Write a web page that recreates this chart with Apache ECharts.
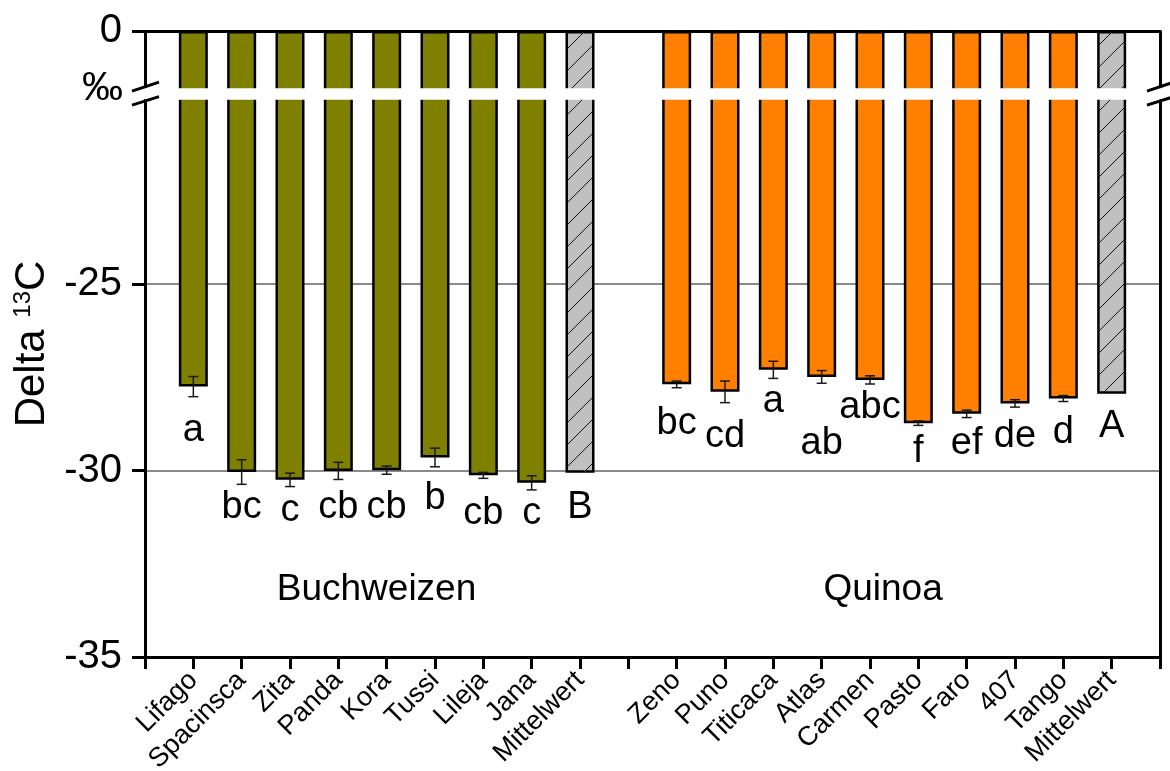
<!DOCTYPE html>
<html>
<head>
<meta charset="utf-8">
<script src="https://cdn.jsdelivr.net/npm/echarts@6/dist/echarts.min.js"></script>
<style>
html,body{margin:0;padding:0;background:#fff;}
#chart{width:1170px;height:771px;}
</style>
</head>
<body>
<div id="chart"></div>
<script>
// ---- data ----
const buchCats = ['Lifago','Spacinsca','Zita','Panda','Kora','Tussi','Lileja','Jana','Mittelwert'];
const buchVals = [-27.75, -30.04, -30.25, -30.01, -29.99, -29.65, -30.13, -30.33, -30.06];
const buchErr  = [0.27, 0.33, 0.18, 0.23, 0.11, 0.25, 0.08, 0.19, 0];
const buchLetters = ['a','bc','c','cb','cb','b','cb','c','B'];
const buchLetterPos = [-28.94, -31.0, -31.06, -31.0, -31.0, -30.74, -31.14, -31.14, -31.0];

const quinCats = ['Zeno','Puno','Titicaca','Atlas','Carmen','Pasto','Faro','407','Tango','Mittelwert'];
const quinVals = [-27.69, -27.89, -27.30, -27.49, -27.57, -28.73, -28.48, -28.20, -28.07, -27.94];
const quinErr  = [0.09, 0.29, 0.23, 0.17, 0.11, 0.06, 0.10, 0.10, 0.08, 0];
const quinLetters = ['bc','cd','a','ab','abc','f','ef','de','d','A'];
const quinLetterPos = [-28.75, -29.10, -28.15, -29.28, -28.30, -29.48, -29.28, -29.10, -28.97, -28.83];

const groupNames = ['Buchweizen','Quinoa'];
const groupX = [4.79, 15.27];
const groupY = [-33.2, -33.2];

const yTicks = [-35, -30, -25, 0];
const BREAK_START = -20.04;
const BREAK_END = -1.53;

// ---- build ----
const FONT = 'Liberation Sans';
const cats = [''].concat(buchCats, [''], quinCats, ['']);
const vals = [null].concat(buchVals, [null], quinVals, [null]);
const errs = [null].concat(buchErr, [null], quinErr, [null]);
const letters = [''].concat(buchLetters, [''], quinLetters, ['']);
const letterPos = [null].concat(buchLetterPos, [null], quinLetterPos, [null]);
const groupOf = [null].concat(buchCats.map(()=>'b'), [null], quinCats.map(()=>'q'), [null]);

function hatch(){
  const s = 22;
  const c = document.createElement('canvas');
  c.width = s; c.height = s;
  const g = c.getContext('2d');
  g.fillStyle = '#c0c0c0'; g.fillRect(0,0,s,s);
  g.strokeStyle = '#111'; g.lineWidth = 1;
  g.beginPath();
  g.moveTo(-2, s+2); g.lineTo(s+2, -2);
  g.moveTo(-2, 2); g.lineTo(2, -2);
  g.moveTo(s-2, s+2); g.lineTo(s+2, s-2);
  g.stroke();
  return c;
}
const hatchImg = hatch();

const barData = vals.map((v,i)=>{
  if (v === null) return null;
  let color = groupOf[i] === 'b' ? '#808000' : '#ff8000';
  if (cats[i] === 'Mittelwert') color = {image: hatchImg, repeat: 'repeat'};
  return {value: v, itemStyle: {color: color}};
});
const errData = [];
vals.forEach((v,i)=>{ if (v !== null && errs[i] > 0) errData.push([i, v, errs[i]]); });
const letterData = [];
letters.forEach((t,i)=>{ if (t) letterData.push([i, letterPos[i], t]); });
const groupData = groupNames.map((n,i)=>[groupX[i], groupY[i], n]);

const chart = echarts.init(document.getElementById('chart'), null, {renderer:'canvas'});

const yCommon = {
  type: 'value', min: -35, max: 0, interval: 5,
  breaks: [{start: BREAK_START, end: BREAK_END, gap: 0.295}],
  breakArea: {
    show: true,
    itemStyle: {color: '#ffffff', borderColor: '#ffffff', borderWidth: 0, opacity: 1},
    zigzagAmplitude: 0,
    zigzagZ: 100,
    expandOnClick: false
  }
};

function textItem(size){
  return function(params, api){
    const p = api.coord([api.value(0), api.value(1)]);
    return {type: 'text', x: p[0], y: p[1], style: {
      text: params.context.rows ? '' : api.value(2), fill: '#000', align: 'center', verticalAlign: 'middle',
      font: size + 'px "Liberation Sans"'
    }};
  };
}

const option = {
  animation: false,
  backgroundColor: '#ffffff',
  grid: {left: 145, right: 10, top: 31, bottom: 114, containLabel: false, outerBoundsMode: 'none'},
  xAxis: [
    {
      type: 'category', data: cats, boundaryGap: false, position: 'bottom',
      axisLine: {show: true, onZero: false, lineStyle: {color: '#000', width: 3}},
      axisTick: {show: true, interval: 0, length: 12, lineStyle: {color: '#000', width: 3}},
      axisLabel: {interval: 0, rotate: 45, fontSize: 27, fontFamily: FONT, color: '#000', margin: 19, hideOverlap: false},
      splitLine: {show: false}
    },
    {
      type: 'category', data: cats, boundaryGap: false, position: 'top',
      axisLine: {show: true, onZero: false, lineStyle: {color: '#000', width: 3}},
      axisTick: {show: false}, axisLabel: {show: false}, splitLine: {show: false}
    },
    {
      type: 'value', min: 0, max: 21, show: false
    }
  ],
  yAxis: [
    Object.assign({}, yCommon, {
      position: 'left',
      axisLine: {show: true, onZero: false, lineStyle: {color: '#000', width: 3}},
      axisTick: {show: true, length: 13, customValues: yTicks, lineStyle: {color: '#000', width: 3}},
      axisLabel: {fontSize: 40, fontFamily: FONT, color: '#000', margin: 23, customValues: yTicks},
      splitLine: {show: true, lineStyle: {color: '#8a8a8a', width: 2}},
      name: 'Delta {sup|13}C',
      nameLocation: 'middle', nameRotate: 90, nameGap: 86,
      nameTextStyle: {
        fontSize: 42, fontFamily: FONT, color: '#000',
        rich: {sup: {fontSize: 24, fontFamily: FONT, color: '#000', verticalAlign: 'top', padding: [0,0,18,0]}}
      }
    }),
    Object.assign({}, yCommon, {
      position: 'right',
      axisLine: {show: true, onZero: false, lineStyle: {color: '#000', width: 3}},
      axisTick: {show: false}, axisLabel: {show: false}, splitLine: {show: false}
    })
  ],
  series: [
    {
      type: 'bar', xAxisIndex: 0, yAxisIndex: 0, data: barData,
      barWidth: '60%',
      itemStyle: {borderColor: '#000', borderWidth: 2.5},
      z: 2
    },
    {
      type: 'custom', xAxisIndex: 0, yAxisIndex: 0, data: errData, z: 5,
      renderItem: function(params, api){
        const x = api.value(0), v = api.value(1), e = api.value(2);
        const lo = api.coord([x, v - e]);
        const hi = api.coord([x, v + e]);
        const hw = 5;
        const st = {stroke: '#1a1a1a', lineWidth: 1.5};
        return {type: 'group', children: [
          {type: 'line', shape: {x1: lo[0], y1: lo[1], x2: hi[0], y2: hi[1]}, style: st},
          {type: 'line', shape: {x1: lo[0]-hw, y1: lo[1], x2: lo[0]+hw, y2: lo[1]}, style: st},
          {type: 'line', shape: {x1: hi[0]-hw, y1: hi[1], x2: hi[0]+hw, y2: hi[1]}, style: st}
        ]};
      }
    },
    {
      type: 'custom', xAxisIndex: 0, yAxisIndex: 0, data: letterData, z: 6,
      dimensions: ['x', 'y', {name: 'txt', type: 'ordinal'}],
      renderItem: function(params, api){
        const i = params.dataIndex;
        const p = api.coord([letterData[i][0], letterData[i][1]]);
        return {type: 'text', x: p[0], y: p[1], style: {
          text: letterData[i][2], fill: '#000', align: 'center', verticalAlign: 'middle',
          font: '38px "Liberation Sans"'}};
      }
    },
    {
      type: 'custom', xAxisIndex: 2, yAxisIndex: 0, data: groupData, z: 6,
      dimensions: ['x', 'y', {name: 'txt', type: 'ordinal'}],
      renderItem: function(params, api){
        const i = params.dataIndex;
        const p = api.coord([groupData[i][0], groupData[i][1]]);
        return {type: 'text', x: p[0], y: p[1], style: {
          text: groupData[i][2], fill: '#000', align: 'center', verticalAlign: 'middle',
          font: '37px "Liberation Sans"'}};
      }
    }
  ]
};
chart.setOption(option);

// break decorations (slashes on both axes + permille unit)
const yTop = chart.convertToPixel({yAxisIndex: 0}, BREAK_END);
const yBot = chart.convertToPixel({yAxisIndex: 0}, BREAK_START);
const cy = (yTop + yBot) / 2;
const xL = chart.convertToPixel({xAxisIndex: 0}, 0);
const xR = chart.convertToPixel({xAxisIndex: 0}, cats.length - 1);
function slashes(cx){
  const st = {stroke: '#000', lineWidth: 3};
  return [
    {type: 'line', z: 300, shape: {x1: cx-13, y1: cy-2.5, x2: cx+14, y2: cy-11.5}, style: st},
    {type: 'line', z: 300, shape: {x1: cx-13, y1: cy+11.5, x2: cx+14, y2: cy+3}, style: st}
  ];
}
chart.setOption({
  graphic: slashes(xL).concat(slashes(xR), [
    {type: 'rect', z: 290, shape: {x: xL-2, y: yTop, width: 4, height: yBot-yTop}, style: {fill: '#fff'}},
    {type: 'rect', z: 290, shape: {x: xR-2, y: yTop, width: 4, height: yBot-yTop}, style: {fill: '#fff'}},
    {type: 'text', z: 300, style: {text: '‰', x: xL - 22, y: yTop + 1, align: 'right', verticalAlign: 'middle',
      font: '41px "Liberation Sans"', fill: '#000'}}
  ])
});
</script>
</body>
</html>
